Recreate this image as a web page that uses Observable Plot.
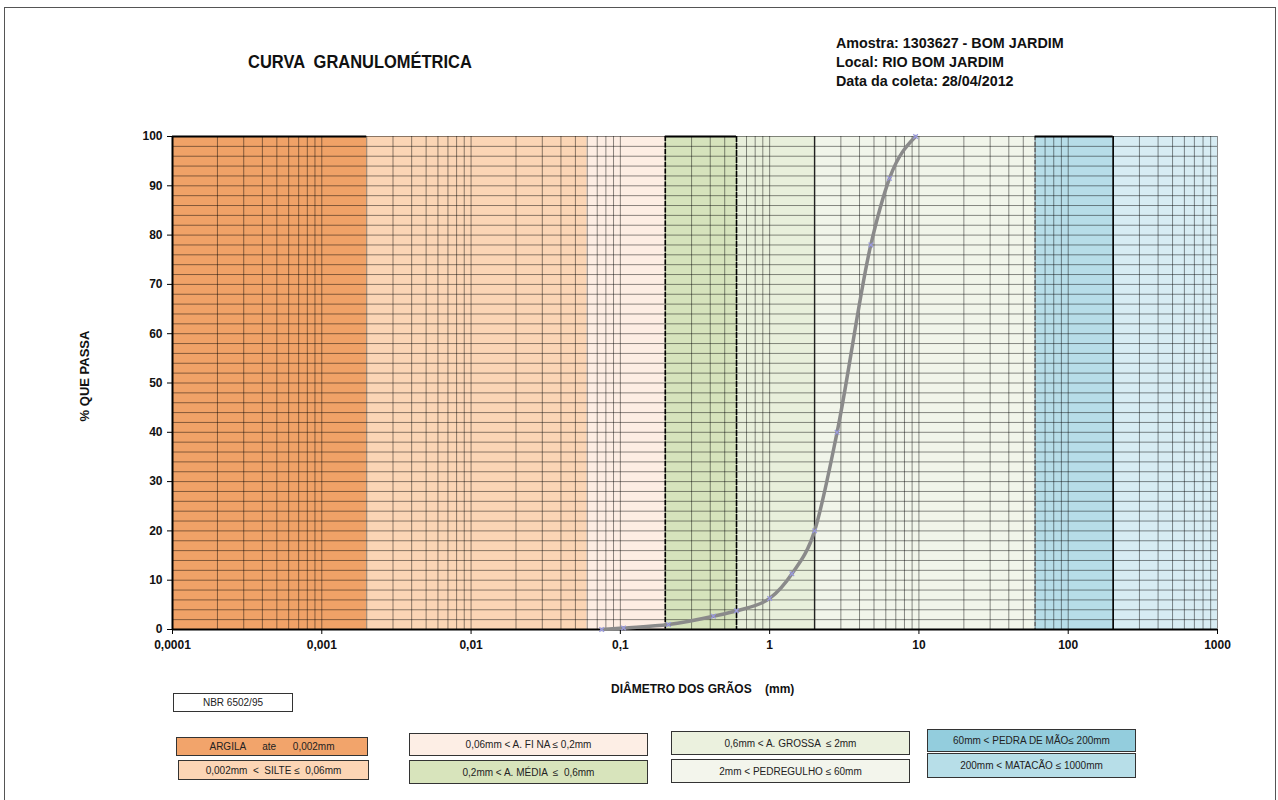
<!DOCTYPE html>
<html>
<head>
<meta charset="utf-8">
<script src="https://cdn.jsdelivr.net/npm/d3@7"></script>
<script src="https://cdn.jsdelivr.net/npm/@observablehq/plot@0.6"></script>
<style>
  body { margin: 0; background: #fff; }
  #page { position: relative; width: 1278px; height: 800px; overflow: hidden; font-family: "Liberation Sans", Arial, sans-serif; color: #111; }
  #frame { position: absolute; left: 4px; top: 7px; width: 1272px; height: 805px; border: 1px solid #555; box-sizing: border-box; }
  #chart { position: absolute; left: 0; top: 0; }
  .narrow { font-family: "Liberation Sans Narrow", "Arial Narrow", "Liberation Sans", Arial, sans-serif; font-weight: bold; transform-origin: left top; }
  #title { position: absolute; left: 248px; top: 52px; font-size: 18px; white-space: pre; transform: scaleX(0.915); }
  #info { position: absolute; left: 836px; top: 33px; font-size: 15px; line-height: 19px; transform: scaleX(0.955); }
  #ylabel { position: absolute; left: 84px; top: 376px; transform: translate(-50%, -50%) rotate(-90deg); font-weight: bold; font-size: 13px; white-space: nowrap; }
  #xlabel { position: absolute; left: 611px; top: 682px; font-weight: bold; font-size: 12px; white-space: pre; }
  .box { position: absolute; box-sizing: border-box; border: 1.5px solid #333; font-size: 10px; display: flex; align-items: center; justify-content: center; white-space: pre; color: #222; }
</style>
</head>
<body>
<div id="page">
  <div id="frame"></div>
  <div id="chart"></div>
  <div id="title" class="narrow">CURVA  GRANULOMÉTRICA</div>
  <div id="info" class="narrow"></div>
  <div id="ylabel">% QUE PASSA</div>
  <div id="xlabel">DIÂMETRO DOS GRÃOS    (mm)</div>
</div>
<script>
// Sieve analysis: grain diameter (mm) and percentage passing
const diameters = [0.075, 0.105, 0.21, 0.42, 0.6, 1.0, 1.41, 2.0, 2.83, 4.76, 6.35, 9.5];
const passing   = [0.0,   0.3,   1.0,  2.7,  3.8, 6.3, 11.3, 20.0, 40.0, 78.0, 91.5, 100.0];

// NBR 6502/95 grain size classes (limits in mm)
const classLimits = [0.0001, 0.002, 0.06, 0.2, 0.6, 2, 60, 200, 1000];
const classNames = ["ARGILA", "SILTE", "A. FINA", "A. MÉDIA", "A. GROSSA", "PEDREGULHO", "PEDRA DE MÃO", "MATACÃO"];
const classLegend = [
  "ARGILA      ate      0,002mm",
  "0,002mm  <  SILTE ≤  0,06mm",
  "0,06mm < A. FI NA ≤ 0,2mm",
  "0,2mm < A. MÉDIA  ≤  0,6mm",
  "0,6mm < A. GROSSA  ≤ 2mm",
  "2mm < PEDREGULHO ≤ 60mm",
  "60mm < PEDRA DE MÃO≤ 200mm",
  "200mm < MATACÃO ≤ 1000mm"
];

// Axis ticks
const xTicks = [0.0001, 0.001, 0.01, 0.1, 1, 10, 100, 1000];
const xTickLabels = ["0,0001", "0,001", "0,01", "0,1", "1", "10", "100", "1000"];
const yTicks = [0, 10, 20, 30, 40, 50, 60, 70, 80, 90, 100];

// Sample identification
const sampleInfo = ["Amostra: 1303627 - BOM JARDIM", "Local: RIO BOM JARDIM", "Data da coleta: 28/04/2012"];
const normName = "NBR 6502/95";

// Colours for each class: chart band and legend swatch
const bandFills   = ["#f0a267", "#fbd5b5", "#fdede3", "#d6e3bc", "#e8efdb", "#f1f5ea", "#b7dde8", "#d7ecf3"];
const legendFills = ["#f2a46b", "#fcd5b5", "#fdeee5", "#d8e4bc", "#ebf1de", "#f3f5ec", "#93cddd", "#b7dee8"];

const bands = classNames.map((name, i) => ({name, lo: classLimits[i], hi: classLimits[i + 1], fill: bandFills[i]}));
const curve = diameters.map((d, i) => ({d, p: passing[i]}));

// Log grid lines: 1..9 per decade
const xGrid = [];
for (let e = -4; e < 3; ++e) for (let m = 1; m < 10; ++m) xGrid.push(m * Math.pow(10, e));
xGrid.push(1000);
const yGrid = d3.range(0, 101, 2);

const fmtX = d => xTickLabels[xTicks.indexOf(d)];

const chart = Plot.plot({
  width: 1278,
  height: 800,
  marginLeft: 172,
  marginRight: 61,
  marginTop: 136,
  marginBottom: 171,
  style: {fontFamily: "'Liberation Sans', Arial, sans-serif", fontSize: "12px", fontWeight: "bold", color: "#111", background: "transparent"},
  x: {type: "log", domain: [0.0001, 1000]},
  y: {domain: [0, 100]},
  color: {type: "identity"},
  marks: [
    Plot.rect(bands, {x1: "lo", x2: "hi", y1: 0, y2: 100, fill: "fill"}),
    Plot.ruleX(xGrid, {stroke: "#000", strokeOpacity: 0.45, strokeWidth: 1}),
    Plot.ruleY(yGrid, {stroke: "#000", strokeOpacity: 0.45, strokeWidth: 1}),
    // class boundaries
    Plot.ruleX([0.2], {stroke: "#000", strokeWidth: 1.6, strokeDasharray: "5,1.5"}),
    Plot.ruleX([0.6], {stroke: "#000", strokeWidth: 1.6, strokeDasharray: "6,1"}),
    Plot.ruleX([2], {stroke: "#222", strokeWidth: 1.4}),
    Plot.ruleX([60], {stroke: "#666", strokeWidth: 1.4, strokeDasharray: "4,2"}),
    Plot.ruleX([200], {stroke: "#000", strokeWidth: 1.6}),
    Plot.ruleY([100], {x1: 0.0001, x2: 0.002, stroke: "#000", strokeWidth: 2}),
    Plot.ruleY([100], {x1: 0.2, x2: 0.6, stroke: "#000", strokeWidth: 2}),
    Plot.ruleY([100], {x1: 60, x2: 200, stroke: "#000", strokeWidth: 2}),
    // axes
    Plot.ruleY([0], {stroke: "#000", strokeWidth: 2}),
    Plot.ruleX([0.0001], {stroke: "#000", strokeWidth: 2}),
    Plot.axisX(xTicks, {tickFormat: fmtX, tickSize: 5, tickPadding: 6, fontWeight: "bold", fontSize: 12, stroke: "#000"}),
    Plot.axisY(yTicks, {tickSize: 5, tickPadding: 5, fontWeight: "bold", fontSize: 12, stroke: "#000", label: null}),
    // grading curve
    Plot.line(curve, {x: "d", y: "p", stroke: "#8a8a8a", strokeWidth: 3.5, curve: "monotone-x"}),
    Plot.dot(curve, {x: "d", y: "p", symbol: "times", r: 2.2, stroke: "#9a9adf", strokeWidth: 1.2})
  ]
});
document.getElementById("chart").appendChild(chart);

document.getElementById("info").innerHTML = sampleInfo.map(s => `<div>${s}</div>`).join("");

// Legend boxes
const page = document.getElementById("page");
const legendPos = [
  [176, 737, 192, 19], [178, 760, 191, 20],
  [409, 733, 239, 23], [409, 760, 239, 24],
  [671, 731, 239, 24], [671, 759, 239, 24],
  [927, 729, 209, 23], [927, 753, 209, 25]
];
function addBox(text, [l, t, w, h], fill) {
  const b = document.createElement("div");
  b.className = "box";
  Object.assign(b.style, {left: l + "px", top: t + "px", width: w + "px", height: h + "px", background: fill});
  b.textContent = text;
  page.appendChild(b);
}
addBox(normName, [173, 693, 120, 19], "#fff");
classLegend.forEach((t, i) => addBox(t, legendPos[i], legendFills[i]));
</script>
</body>
</html>
